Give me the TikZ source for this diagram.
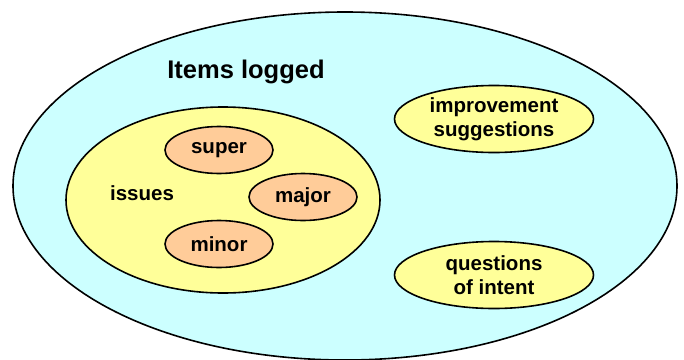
\documentclass[tikz,border=0pt]{standalone}
\usepackage{fontspec}
\setmainfont{Liberation Sans}
\usetikzlibrary{shapes.geometric}

\definecolor{skyfill}{HTML}{CCFFFF}
\definecolor{lemonfill}{HTML}{FFFF99}
\definecolor{peachfill}{HTML}{FFCC99}

\begin{document}
\begin{tikzpicture}[x=1pt,y=-1pt,
    blob/.style={ellipse,draw=black,line width=1.6pt,inner sep=0pt,
      font=\bfseries\fontsize{20.5}{24}\selectfont,align=center},
    severity/.style={blob,fill=peachfill,minimum width=108pt,minimum height=47pt},
    sidebox/.style={blob,fill=lemonfill,minimum width=199pt,minimum height=67pt},
    caption/.style={font=\bfseries\fontsize{20.5}{24}\selectfont,inner sep=0pt}]
  %uncomment to see pixel grid of the reference:
  %\draw[dotted,step=50,black,very thin] (0,0) grid (684,359);
  \useasboundingbox (0,0) rectangle (684,359);

  % outer set, cut off by the bottom edge
  \begin{scope}
    \clip (0,0) rectangle (684,359);
    \node[blob,fill=skyfill,minimum width=664pt,minimum height=348pt] (logged) at (345,186) {};
  \end{scope}
  \node[caption,font=\bfseries\fontsize{25.5}{28}\selectfont] (loggedlabel) at (246,72) {Items logged};

  % issues and their severities
  \node[blob,fill=lemonfill,minimum width=314pt,minimum height=186pt] (issues) at (223,200) {};
  \node[caption] (issueslabel) at (142,193) {issues};
  \node[severity] (super) at (219,150) {super};
  \node[severity] (major) at (303,197) {major};
  \node[severity] (minor) at (219,244) {minor};

  % the other kinds of items
  \node[sidebox] (improve) at (494,119) {improvement\\suggestions};
  \node[sidebox] (intent) at (494,275) {questions\\of intent};

\end{tikzpicture}
\end{document}
